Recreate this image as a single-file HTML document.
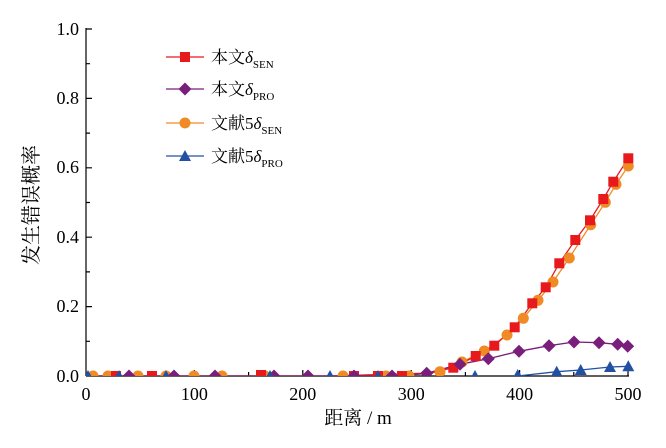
<!DOCTYPE html>
<html><head><meta charset="utf-8"><style>body{margin:0;background:#fff}svg{display:block}</style></head><body>
<svg width="666" height="448" xmlns="http://www.w3.org/2000/svg" font-family="'Liberation Serif','Noto Serif CJK SC',serif">
<defs>
<clipPath id="c"><rect x="86" y="20" width="560" height="356"/></clipPath>
<symbol id="sq" overflow="visible"><rect x="-5" y="-5" width="10" height="10" fill="#e8191d"/></symbol>
<symbol id="di" overflow="visible"><polygon points="0,-6.5 6.5,0 0,6.5 -6.5,0" fill="#7a1e7c"/></symbol>
<symbol id="ci" overflow="visible"><circle r="5.5" fill="#f08a24"/></symbol>
<symbol id="tr" overflow="visible"><polygon points="0,-6 6,5 -6,5" fill="#2251a3"/></symbol>
</defs>
<g stroke="#000" stroke-width="1.2" fill="none">
<line x1="86" y1="28" x2="86" y2="376"/><line x1="86" y1="376" x2="629" y2="376"/>
<path d="M86 29h6M86 63.7h4M86 98.4h6M86 133.1h4M86 167.8h6M86 202.5h4M86 237.2h6M86 271.9h4M86 306.6h6M86 341.3h4"/>
<path d="M194.4 376v-6M302.8 376v-6M411.2 376v-6M519.6 376v-6M628 376v-6M140.2 376v-4M248.6 376v-4M357 376v-4M465.4 376v-4M573.8 376v-4"/>
</g>
<g font-size="18" text-anchor="end">
<text x="79" y="35">1.0</text><text x="79" y="104">0.8</text><text x="79" y="173">0.6</text><text x="79" y="243">0.4</text><text x="79" y="312">0.2</text><text x="79" y="382">0.0</text>
</g>
<g font-size="18" text-anchor="middle">
<text x="86" y="400">0</text><text x="194.4" y="400">100</text><text x="302.8" y="400">200</text><text x="411.2" y="400">300</text><text x="519.6" y="400">400</text><text x="628" y="400">500</text>
<text x="358" y="424" font-size="19">距离 / m</text>
<text transform="translate(38,205) rotate(-90)" font-size="20">发生错误概率</text>
</g>
<g clip-path="url(#c)">
<polyline fill="none" stroke="#f08a24" stroke-width="1.3" points="86,376 330,376 420,374 440,371.7 462,362 484.3,351 507,335 523.3,318.3 538,300.3 553,282 569.3,258 590.7,224.7 605.3,202.3 616,184.3 628.3,166"/>
<polyline fill="none" stroke="#e8191d" stroke-width="1.3" points="86,376 330,376 430,373 453.3,367.7 475.7,356 494.3,345.7 514.7,327.3 532.3,303.3 545.7,287.3 559.3,263.3 575.3,240 590,220.3 603.3,199 613.3,181.7 628.3,158.3"/>
<polyline fill="none" stroke="#7a1e7c" stroke-width="1.3" points="86,376 400,376 426.7,373.3 460,364.3 488.3,358.7 519,351.3 549,345.7 574,342 599,342.7 617.7,344.3 627.7,346.3"/>
<polyline fill="none" stroke="#2251a3" stroke-width="1.3" points="517.7,376 556.7,371.7 580.7,370 610,367 628.3,366.3"/>
<g>
<use href="#ci" x="93" y="376"/><use href="#ci" x="108" y="376"/><use href="#ci" x="138" y="376"/><use href="#ci" x="166" y="376"/><use href="#ci" x="194" y="376"/><use href="#ci" x="222" y="376"/><use href="#ci" x="265" y="376"/><use href="#ci" x="343" y="376"/><use href="#ci" x="386" y="376"/><use href="#ci" x="409" y="376"/><use href="#ci" x="440" y="371.7"/><use href="#ci" x="484.3" y="351"/><use href="#ci" x="507" y="335"/><use href="#ci" x="523.3" y="318.3"/><use href="#ci" x="538" y="300.3"/><use href="#ci" x="569.3" y="258"/><use href="#ci" x="590.7" y="224.7"/><use href="#ci" x="605.3" y="202.3"/><use href="#ci" x="616" y="184.3"/><use href="#ci" x="628.3" y="166"/><use href="#ci" x="553" y="282"/><use href="#ci" x="462" y="362"/>
<use href="#sq" x="116" y="376"/><use href="#sq" x="152" y="376"/><use href="#sq" x="261" y="375"/><use href="#sq" x="354" y="376"/><use href="#sq" x="378" y="376"/><use href="#sq" x="402" y="376"/><use href="#sq" x="453.3" y="367.7"/><use href="#sq" x="475.7" y="356"/><use href="#sq" x="494.3" y="345.7"/><use href="#sq" x="514.7" y="327.3"/><use href="#sq" x="532.3" y="303.3"/><use href="#sq" x="545.7" y="287.3"/><use href="#sq" x="559.3" y="263.3"/><use href="#sq" x="575.3" y="240"/><use href="#sq" x="590" y="220.3"/><use href="#sq" x="603.3" y="199"/><use href="#sq" x="613.3" y="181.7"/><use href="#sq" x="628.3" y="158.3"/>
<use href="#di" x="129" y="376"/><use href="#di" x="174" y="376"/><use href="#di" x="215" y="376"/><use href="#di" x="274" y="376"/><use href="#di" x="308" y="376"/><use href="#di" x="354" y="376"/><use href="#di" x="392" y="376"/><use href="#di" x="426.7" y="373.3"/><use href="#di" x="460" y="364.3"/><use href="#di" x="488.3" y="358.7"/><use href="#di" x="519" y="351.3"/><use href="#di" x="549" y="345.7"/><use href="#di" x="574" y="342"/><use href="#di" x="599" y="342.7"/><use href="#di" x="617.7" y="344.3"/><use href="#di" x="627.7" y="346.3"/>
<use href="#tr" x="88" y="376"/><use href="#tr" x="119" y="376"/><use href="#tr" x="166" y="376"/><use href="#tr" x="270" y="376"/><use href="#tr" x="330" y="376"/><use href="#tr" x="378" y="376"/><use href="#tr" x="475" y="376"/><use href="#tr" x="517.7" y="375"/><use href="#tr" x="556.7" y="371.7"/><use href="#tr" x="580.7" y="370"/><use href="#tr" x="610" y="367"/><use href="#tr" x="628.3" y="366.3"/>
</g>
</g>
<g stroke-width="1.3">
<line x1="166" y1="57" x2="204" y2="57" stroke="#e8191d"/><use href="#sq" x="185" y="57"/>
<line x1="166" y1="89" x2="204" y2="89" stroke="#7a1e7c"/><use href="#di" x="185" y="89"/>
<line x1="166" y1="123" x2="204" y2="123" stroke="#f08a24"/><use href="#ci" x="185" y="123"/>
<line x1="166" y1="156" x2="204" y2="156" stroke="#2251a3"/><use href="#tr" x="185" y="156"/>
</g>
<g font-size="17">
<text x="211" y="63">本文<tspan font-style="italic">δ</tspan><tspan font-size="11" dy="5">SEN</tspan></text>
<text x="211" y="95">本文<tspan font-style="italic">δ</tspan><tspan font-size="11" dy="5">PRO</tspan></text>
<text x="211" y="129">文献5<tspan font-style="italic">δ</tspan><tspan font-size="11" dy="5">SEN</tspan></text>
<text x="211" y="162">文献5<tspan font-style="italic">δ</tspan><tspan font-size="11" dy="5">PRO</tspan></text>
</g>
</svg>
</body></html>
